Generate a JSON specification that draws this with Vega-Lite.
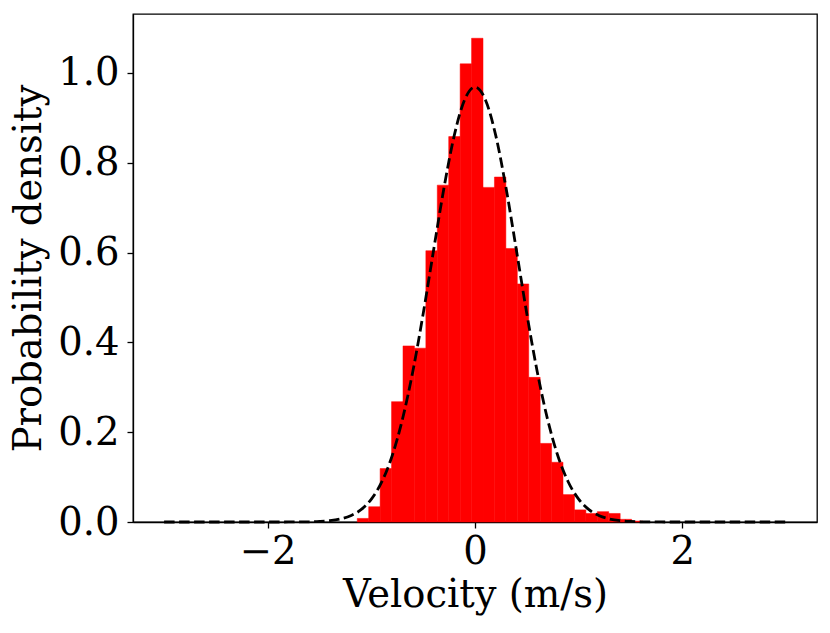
{
  "$schema": "https://vega.github.io/schema/vega-lite/v6.json",
  "autosize": {"type": "none"},
  "padding": {"left": 133, "top": 14, "right": 13, "bottom": 111},
  "width": 684,
  "height": 508,
  "background": "white",
  "config": {
    "font": "DejaVu Serif",
    "view": {"stroke": "black", "strokeWidth": 1.3},
    "axis": {
      "labelFont": "DejaVu Serif",
      "titleFont": "DejaVu Serif",
      "labelFontSize": 38.5,
      "titleFontSize": 38.5,
      "titleFontWeight": "normal",
      "labelColor": "black",
      "titleColor": "black",
      "domainColor": "black",
      "domainWidth": 1.3,
      "tickColor": "black",
      "tickWidth": 1.3,
      "tickSize": 6,
      "grid": false
    }
  },
  "datasets": {
    "hist": [
      {"bin_start": -1.136, "bin_end": -1.0257, "density": 0.008},
      {"bin_start": -1.0257, "bin_end": -0.9154, "density": 0.034},
      {"bin_start": -0.9154, "bin_end": -0.8051, "density": 0.119},
      {"bin_start": -0.8051, "bin_end": -0.6948, "density": 0.268},
      {"bin_start": -0.6948, "bin_end": -0.5845, "density": 0.392},
      {"bin_start": -0.5845, "bin_end": -0.4742, "density": 0.387},
      {"bin_start": -0.4742, "bin_end": -0.3639, "density": 0.604},
      {"bin_start": -0.3639, "bin_end": -0.2536, "density": 0.75},
      {"bin_start": -0.2536, "bin_end": -0.1433, "density": 0.858},
      {"bin_start": -0.1433, "bin_end": -0.033, "density": 1.02},
      {"bin_start": -0.033, "bin_end": 0.0773, "density": 1.077},
      {"bin_start": 0.0773, "bin_end": 0.1876, "density": 0.745},
      {"bin_start": 0.1876, "bin_end": 0.2979, "density": 0.768},
      {"bin_start": 0.2979, "bin_end": 0.4082, "density": 0.609},
      {"bin_start": 0.4082, "bin_end": 0.5185, "density": 0.53},
      {"bin_start": 0.5185, "bin_end": 0.6288, "density": 0.322},
      {"bin_start": 0.6288, "bin_end": 0.7391, "density": 0.175},
      {"bin_start": 0.7391, "bin_end": 0.8494, "density": 0.133},
      {"bin_start": 0.8494, "bin_end": 0.9597, "density": 0.061},
      {"bin_start": 0.9597, "bin_end": 1.07, "density": 0.027},
      {"bin_start": 1.07, "bin_end": 1.1803, "density": 0.019},
      {"bin_start": 1.1803, "bin_end": 1.2906, "density": 0.023},
      {"bin_start": 1.2906, "bin_end": 1.4009, "density": 0.019},
      {"bin_start": 1.4009, "bin_end": 1.5112, "density": 0.006},
      {"bin_start": 1.5112, "bin_end": 1.6215, "density": 0.002}
    ],
    "fit": [
      {"v": -3.0, "p": 0.0},
      {"v": -2.5, "p": 0.0},
      {"v": -2.0, "p": 0.0},
      {"v": -1.8, "p": 0.00007},
      {"v": -1.6, "p": 0.0005},
      {"v": -1.5, "p": 0.0013},
      {"v": -1.4, "p": 0.003},
      {"v": -1.3, "p": 0.0067},
      {"v": -1.2, "p": 0.0139},
      {"v": -1.1, "p": 0.0274},
      {"v": -1.0, "p": 0.0509},
      {"v": -0.9, "p": 0.0891},
      {"v": -0.8, "p": 0.147},
      {"v": -0.7, "p": 0.2287},
      {"v": -0.6, "p": 0.3353},
      {"v": -0.5, "p": 0.4637},
      {"v": -0.4, "p": 0.6044},
      {"v": -0.3, "p": 0.7428},
      {"v": -0.2, "p": 0.8607},
      {"v": -0.1, "p": 0.9402},
      {"v": 0.0, "p": 0.9683},
      {"v": 0.1, "p": 0.9402},
      {"v": 0.2, "p": 0.8607},
      {"v": 0.3, "p": 0.7428},
      {"v": 0.4, "p": 0.6044},
      {"v": 0.5, "p": 0.4637},
      {"v": 0.6, "p": 0.3353},
      {"v": 0.7, "p": 0.2287},
      {"v": 0.8, "p": 0.147},
      {"v": 0.9, "p": 0.0891},
      {"v": 1.0, "p": 0.0509},
      {"v": 1.1, "p": 0.0274},
      {"v": 1.2, "p": 0.0139},
      {"v": 1.3, "p": 0.0067},
      {"v": 1.4, "p": 0.003},
      {"v": 1.5, "p": 0.0013},
      {"v": 1.6, "p": 0.0005},
      {"v": 1.8, "p": 0.00007},
      {"v": 2.0, "p": 0.0},
      {"v": 2.5, "p": 0.0},
      {"v": 3.0, "p": 0.0}
    ]
  },
  "layer": [
    {
      "data": {"name": "hist"},
      "mark": {"type": "bar", "color": "#ff0000", "stroke": "#ff0000", "strokeWidth": 0.5, "opacity": 1, "cornerRadius": 0},
      "encoding": {
        "x": {
          "field": "bin_start", "type": "quantitative",
          "scale": {"domain": [-3.3, 3.3], "nice": false, "zero": false},
          "axis": {
            "values": [-2, 0, 2],
            "title": "Velocity (m/s)",
            "labelExpr": "datum.value < 0 ? '\u2212' + format(abs(datum.value), 'd') : format(datum.value, 'd')",
            "labelPadding": 5,
            "titlePadding": 6
          }
        },
        "x2": {"field": "bin_end"},
        "y": {
          "field": "density", "type": "quantitative",
          "scale": {"domain": [0, 1.131], "nice": false},
          "axis": {
            "values": [0, 0.2, 0.4, 0.6, 0.8, 1.0],
            "format": ".1f",
            "title": "Probability density",
            "labelPadding": 8,
            "titlePadding": 9
          }
        },
        "y2": {"datum": 0}
      }
    },
    {
      "data": {"name": "fit"},
      "mark": {"type": "line", "color": "black", "strokeWidth": 2.8, "strokeDash": [10.5, 4.5], "interpolate": "monotone"},
      "encoding": {
        "x": {"field": "v", "type": "quantitative"},
        "y": {"field": "p", "type": "quantitative"}
      }
    }
  ]
}
